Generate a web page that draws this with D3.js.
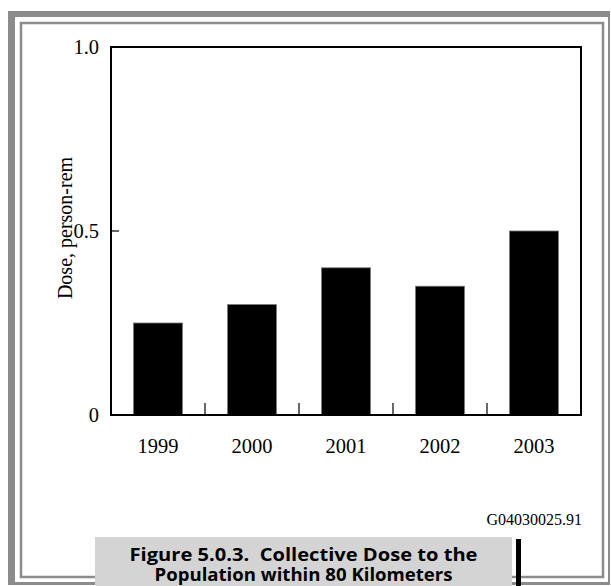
<!DOCTYPE html>
<html><head><meta charset="utf-8">
<script src="https://cdn.jsdelivr.net/npm/d3@7"></script>
<style>html,body{margin:0;padding:0;background:#fff;overflow:hidden} text{white-space:pre}</style>
</head><body>
<svg id="c" width="611" height="586"></svg>
<script>
const years = ["1999","2000","2001","2002","2003"];
const doses = [0.25, 0.30, 0.40, 0.35, 0.50];
const yTicks = [0, 0.5, 1.0];
const yTickLabels = ["0", "0.5", "1.0"];
const yTitle = "Dose, person-rem";
const figId = "G04030025.91";
const captionLines = ["Figure 5.0.3.  Collective Dose to the", "Population within 80 Kilometers", "(50 Miles) of the Hanford Site"];

const svg = d3.select("#c");
const serif = "'Liberation Serif', 'Times New Roman', serif";

// frames
svg.append("rect").attr("x",8).attr("y",11).attr("width",602).attr("height",574).attr("fill","#8c8c8c");
svg.append("rect").attr("x",15).attr("y",17).attr("width",593).attr("height",565).attr("fill","#fff");
svg.append("rect").attr("x",21).attr("y",23).attr("width",582).attr("height",554)
  .attr("fill","none").attr("stroke","#8c8c8c").attr("stroke-width",2.5);

const L=111, R=581, T=47, B=415;
const x = d3.scaleBand().domain(years).range([L,R]).padding(0);
const y = d3.scaleLinear().domain([0,1]).range([B,T]);
const bw = x.bandwidth()*0.52;

// bars
svg.append("g").selectAll("rect").data(years).join("rect")
  .attr("x", d => x(d) + (x.bandwidth()-bw)/2)
  .attr("y", (d,i) => y(doses[i]))
  .attr("width", bw)
  .attr("height", (d,i) => y(0) - y(doses[i]))
  .attr("fill","#000").attr("stroke","#777").attr("stroke-width",0.8);

// plot box
svg.append("rect").attr("x",L).attr("y",T).attr("width",R-L).attr("height",B-T)
  .attr("fill","none").attr("stroke","#000").attr("stroke-width",2);

// x axis
const xAxis = d3.axisBottom(x).tickSize(0).tickPadding(23);
const gx = svg.append("g").attr("transform",`translate(0,${B})`).call(xAxis);
gx.select(".domain").remove();
gx.selectAll("text").attr("font-family",serif).attr("font-size",20.5).attr("fill","#000");
svg.append("g").selectAll("line").data(years.slice(1)).join("line")
  .attr("x1", d => x(d)).attr("x2", d => x(d))
  .attr("y1", B).attr("y2", B-12)
  .attr("stroke","#000").attr("stroke-width",1.2);

// y axis
const yAxis = d3.axisLeft(y).tickValues(yTicks).tickSize(0).tickPadding(12)
  .tickFormat((d,i) => yTickLabels[i]);
const gy = svg.append("g").attr("transform",`translate(${L},0)`).call(yAxis);
gy.select(".domain").remove();
gy.selectAll("text").attr("font-family",serif).attr("font-size",20.5).attr("fill","#000");
svg.append("g").selectAll("line").data([0.5]).join("line")
  .attr("x1", L).attr("x2", L+8)
  .attr("y1", d => y(d)).attr("y2", d => y(d))
  .attr("stroke","#000").attr("stroke-width",1.2);

svg.append("text").attr("transform",`translate(72,${(T+B)/2 - 3}) rotate(-90)`)
  .attr("text-anchor","middle").attr("font-family",serif).attr("font-size",20).text(yTitle);

svg.append("text").attr("x",582).attr("y",525).attr("text-anchor","end")
  .attr("font-family",serif).attr("font-size",16).text(figId);

// caption box
svg.append("rect").attr("x",516).attr("y",539).attr("width",5).attr("height",60).attr("fill","#000");
svg.append("rect").attr("x",95).attr("y",537).attr("width",417).attr("height",60).attr("fill","#d4d4d4");
const capW = [348, 298, 290];
svg.append("g").selectAll("text").data(captionLines).join("text")
  .attr("x",303.5).attr("y",(d,i)=>561+i*19.5).attr("text-anchor","middle")
  .attr("font-family","'Open Sans', sans-serif").attr("font-weight",700).attr("font-size",17.5)
  .attr("textLength",(d,i)=>capW[i]).attr("lengthAdjust","spacingAndGlyphs")
  .attr("fill","#000").text(d=>d);
</script>
</body></html>
